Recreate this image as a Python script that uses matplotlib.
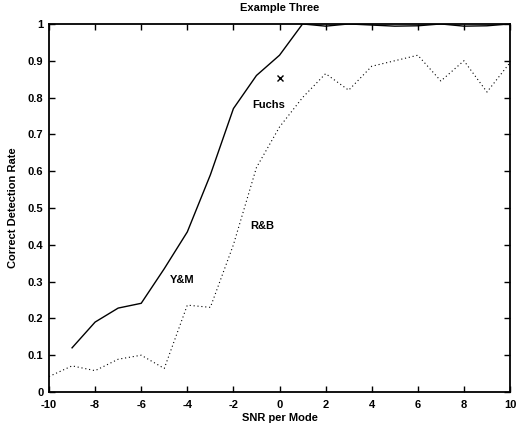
import numpy as np
import matplotlib
matplotlib.use("Agg")
import matplotlib.pyplot as plt

plt.rcParams['font.family'] = ['Liberation Sans', 'DejaVu Sans']
plt.rcParams['font.weight'] = 'bold'
plt.rcParams['axes.unicode_minus'] = False

# Y&M (solid)
ym_snr = [-9, -8, -7, -6, -5, -4, -3, -2, -1, 0, 1, 2, 3, 4, 5, 6, 7, 8, 9, 10]
ym_rate = [0.12, 0.19, 0.228, 0.241, 0.335, 0.435, 0.59, 0.77, 0.86, 0.915,
           1.0, 0.994, 1.0, 0.997, 0.994, 0.995, 1.0, 0.994, 0.995, 1.0]

# R&B (dotted)
rb_snr = [-10, -9, -8, -7, -6, -5, -4, -3, -2, -1, 0, 1, 2, 3, 4, 5, 6, 7, 8, 9, 10]
rb_rate = [0.042, 0.071, 0.058, 0.089, 0.10, 0.064, 0.236, 0.23, 0.40, 0.61,
           0.72, 0.80, 0.865, 0.82, 0.885, 0.90, 0.915, 0.845, 0.90, 0.815, 0.895]

# Fuchs (single point)
fuchs_snr = [0]
fuchs_rate = [0.852]

fig = plt.figure(figsize=(5.18, 4.26), dpi=100)
ax = fig.add_axes([0.0946, 0.0798, 0.89, 0.864])

ax.plot(ym_snr, ym_rate, color='black', lw=1.0)
ax.plot(rb_snr, rb_rate, color='black', lw=0.8, linestyle=(0, (1, 2.5)))
ax.plot(fuchs_snr, fuchs_rate, 'x', color='black', ms=5, mew=1.0)

ax.text(-4.24, 0.305, 'Y&M', fontsize=8, ha='center', va='center', fontweight='bold')
ax.text(-0.76, 0.45, 'R&B', fontsize=8, ha='center', va='center', fontweight='bold')
ax.text(-0.49, 0.78, 'Fuchs', fontsize=8, ha='center', va='center', fontweight='bold')

ax.set_xlim(-10, 10)
ax.set_ylim(0, 1)
ax.set_xticks(np.arange(-10, 11, 2))
ax.set_yticks(np.arange(0, 1.01, 0.1))
ax.set_yticklabels(['0', '0.1', '0.2', '0.3', '0.4', '0.5', '0.6', '0.7', '0.8', '0.9', '1'])
ax.tick_params(direction='in', length=4, width=1, top=True, right=True, labelsize=8)
ax.tick_params(axis='x', pad=6)
ax.tick_params(axis='y', pad=4)
for s in ax.spines.values():
    s.set_linewidth(1.3)

ax.set_title('Example Three', fontsize=8, fontweight='bold', pad=9)
ax.set_xlabel('SNR per Mode', fontsize=8, fontweight='bold', labelpad=2)
ax.set_ylabel('Correct Detection Rate', fontsize=8, fontweight='bold', labelpad=7)

fig.savefig('out.png', dpi=100)
